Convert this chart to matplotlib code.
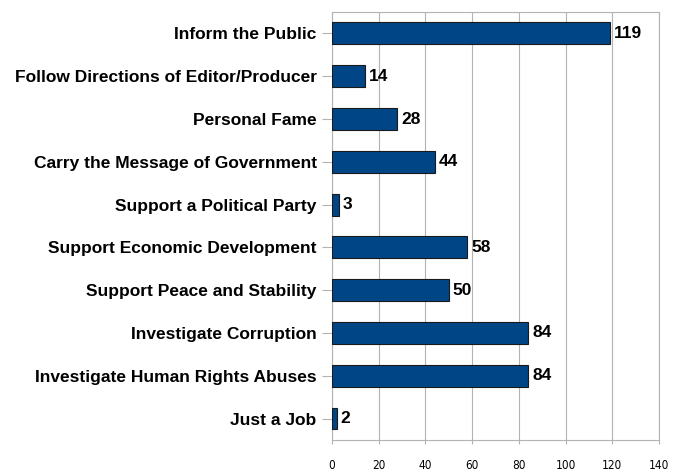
import matplotlib
matplotlib.use('Agg')
from matplotlib import pyplot as plt
from matplotlib import rcParams
import numpy as np

categories = ['Inform the Public', 'Follow Directions of Editor/Producer', 'Personal Fame',
              'Carry the Message of Government', 'Support a Political Party',
              'Support Economic Development', 'Support Peace and Stability',
              'Investigate Corruption', 'Investigate Human Rights Abuses', 'Just a Job']
values = [119, 14, 28, 44, 3, 58, 50, 84, 84, 2]
xticks = [0, 20, 40, 60, 80, 100, 120, 140]

rcParams['font.family'] = ['Liberation Sans', 'DejaVu Sans']

fig = plt.figure(figsize=(6.84, 4.73), dpi=100)
ax = fig.add_axes([0.4854, 0.0698, 0.4781, 0.9048])

y = np.arange(len(categories))
ax.barh(y, values, height=0.51, color='#004586', edgecolor='#1a1a1a', linewidth=0.8, zorder=3)
for yi, v in zip(y, values):
    ax.text(v + 1.7, yi, str(v), va='center', ha='left', fontsize=12.5, fontweight='bold', zorder=4)

ax.set_ylim(len(categories) - 0.5, -0.5)
ax.set_xlim(0, 140)
ax.set_yticks(y)
ax.set_yticklabels(categories, fontsize=12.5, fontweight='bold')
ax.set_xticks(xticks)
ax.set_xticklabels([str(t) for t in xticks], fontsize=8.5,
                   family=['DejaVu Sans'], stretch='condensed')

ax.xaxis.grid(True, color='#b3b3b3', linewidth=0.8, zorder=0)
for s in ax.spines.values():
    s.set_color('#b3b3b3')
    s.set_linewidth(0.8)
ax.tick_params(axis='y', length=7, color='#b3b3b3', pad=4)
ax.tick_params(axis='x', length=3, color='#b3b3b3', pad=11)

plt.savefig('out.png', dpi=100)
